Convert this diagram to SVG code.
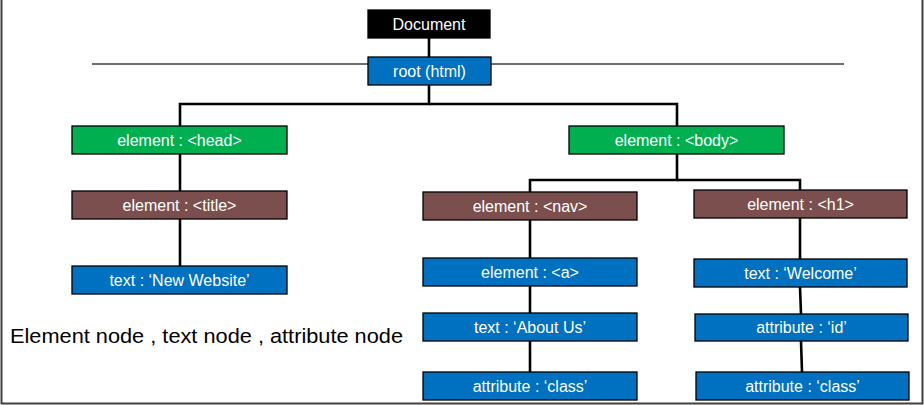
<svg xmlns="http://www.w3.org/2000/svg" width="924" height="405" viewBox="0 0 924 405">
<style>
.n rect{stroke:#000;stroke-width:1.3}
.n text{fill:#fff;font-family:"Liberation Sans",Arial,sans-serif;font-size:16px;text-anchor:middle}
.blk{fill:#000}
.blu{fill:#0070C0}
.grn{fill:#00B050}
.brn{fill:#7B4F4E}
#connectors path{fill:none;stroke:#000;stroke-width:2.6}
</style>
<rect x="0" y="0" width="924" height="405" fill="#fff"/>
<path d="M1.5 0 V403.5 H922.5 V0" fill="none" stroke="#404040" stroke-width="2"/>
<line x1="92" y1="64" x2="844" y2="64" stroke="#404040" stroke-width="1.3"/>
<g id="connectors">
<path d="M429 38 V57"/>
<path d="M429 85 V104 H180 V126"/>
<path d="M429 104 H677 V126"/>
<path d="M180 154 V191"/>
<path d="M180 219 V266"/>
<path d="M677 154 V180 H530 V192"/>
<path d="M677 180 H800 V190"/>
<path d="M530 220 V258"/>
<path d="M530 286 V313"/>
<path d="M530 341 V372"/>
<path d="M800 218 V259"/>
<path d="M800 287 L801 314"/>
<path d="M801 341 L802 372"/>
</g>
<g id="document" class="n"><rect class="blk" x="368" y="10" width="122" height="28"/><text x="429" y="29.5">Document</text></g>
<g id="root" class="n"><rect class="blu" x="368" y="57" width="123" height="28"/><text x="429.5" y="76.5">root (html)</text></g>
<g id="head" class="n"><rect class="grn" x="72" y="126" width="215" height="28"/><text x="179.5" y="145.5">element : &lt;head&gt;</text></g>
<g id="body" class="n"><rect class="grn" x="569" y="126" width="215" height="28"/><text x="676.5" y="145.5">element : &lt;body&gt;</text></g>
<g id="title" class="n"><rect class="brn" x="72" y="191" width="215" height="28"/><text x="179.5" y="210.5">element : &lt;title&gt;</text></g>
<g id="newwebsite" class="n"><rect class="blu" x="72" y="266" width="215" height="28"/><text x="179.5" y="285.5">text : ‘New Website’</text></g>
<g id="nav" class="n"><rect class="brn" x="423" y="192" width="214" height="28"/><text x="530" y="211.5">element : &lt;nav&gt;</text></g>
<g id="h1" class="n"><rect class="brn" x="694" y="190" width="213" height="28"/><text x="800.5" y="209.5">element : &lt;h1&gt;</text></g>
<g id="a" class="n"><rect class="blu" x="423" y="258" width="214" height="28"/><text x="530" y="277.5">element : &lt;a&gt;</text></g>
<g id="aboutus" class="n"><rect class="blu" x="423" y="313" width="214" height="28"/><text x="530" y="332.5">text : ‘About Us’</text></g>
<g id="classleft" class="n"><rect class="blu" x="423" y="372" width="214" height="28"/><text x="530" y="391.5">attribute : ‘class’</text></g>
<g id="welcome" class="n"><rect class="blu" x="694" y="259" width="213" height="28"/><text x="800.5" y="278.5">text : ‘Welcome’</text></g>
<g id="id" class="n"><rect class="blu" x="695" y="314" width="213" height="27"/><text x="801.5" y="333">attribute : ‘id’</text></g>
<g id="classright" class="n"><rect class="blu" x="696" y="372" width="213" height="28"/><text x="802.5" y="391.5">attribute : ‘class’</text></g>
<text x="10" y="343" font-family="'Liberation Sans',Arial,sans-serif" font-size="20.5" fill="#000" textLength="393" lengthAdjust="spacingAndGlyphs">Element node , text node , attribute node</text>
</svg>
